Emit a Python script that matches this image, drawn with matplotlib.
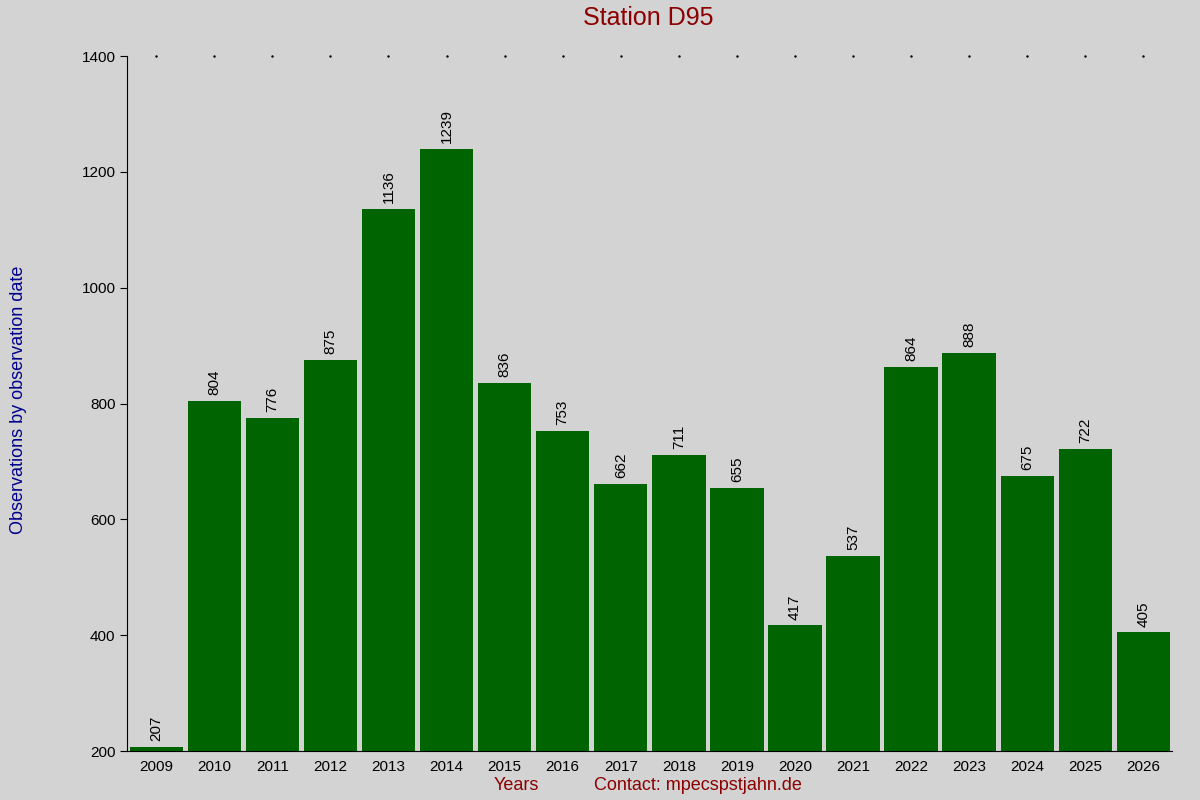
import matplotlib
matplotlib.use("Agg")
import matplotlib.pyplot as plt

years = [str(y) for y in range(2009, 2027)]
values = [207, 804, 776, 875, 1136, 1239, 836, 753, 662, 711, 655, 417, 537, 864, 888, 675, 722, 405]

plt.rcParams['font.family'] = ['Liberation Sans', 'DejaVu Sans']
fig = plt.figure(figsize=(12, 8), dpi=100, facecolor='#d3d3d3')
ax = fig.add_axes([0.106, 0.061, 0.871, 0.869], facecolor='#d3d3d3')
x = list(range(len(years)))
ax.bar(x, values, width=0.92, color='#006400', bottom=0)
ax.set_ylim(200, 1400)
ax.set_xlim(-0.5, len(years) - 0.5)
ax.set_xticks(x)
ax.set_xticklabels(years, fontsize=11)
ax.set_yticks(range(200, 1401, 200))
ax.tick_params(axis='y', labelsize=11, direction='out', length=5)
ax.tick_params(axis='x', length=0, pad=6, top=True)
for s in ['top', 'right']:
    ax.spines[s].set_visible(False)
for xi, v in zip(x, values):
    ax.text(xi, v + 10, str(v), rotation=90, ha='center', va='bottom', fontsize=11)
for xi in x:
    ax.plot(xi, 1400, marker='.', markersize=1.5, color='black', clip_on=False)
fig.text(0.54, 0.978, 'Station D95', ha='center', va='center', fontsize=18, color='#8b0000')
fig.text(0.008, 0.5, 'Observations by observation date', rotation=90, ha='left', va='center', fontsize=13, color='#00008b')
fig.text(0.43, 0.018, 'Years', ha='center', va='center', fontsize=13, color='#8b0000')
fig.text(0.582, 0.018, 'Contact: mpecspstjahn.de', ha='center', va='center', fontsize=13, color='#8b0000')
fig.savefig('out.png', dpi=100, facecolor=fig.get_facecolor())
